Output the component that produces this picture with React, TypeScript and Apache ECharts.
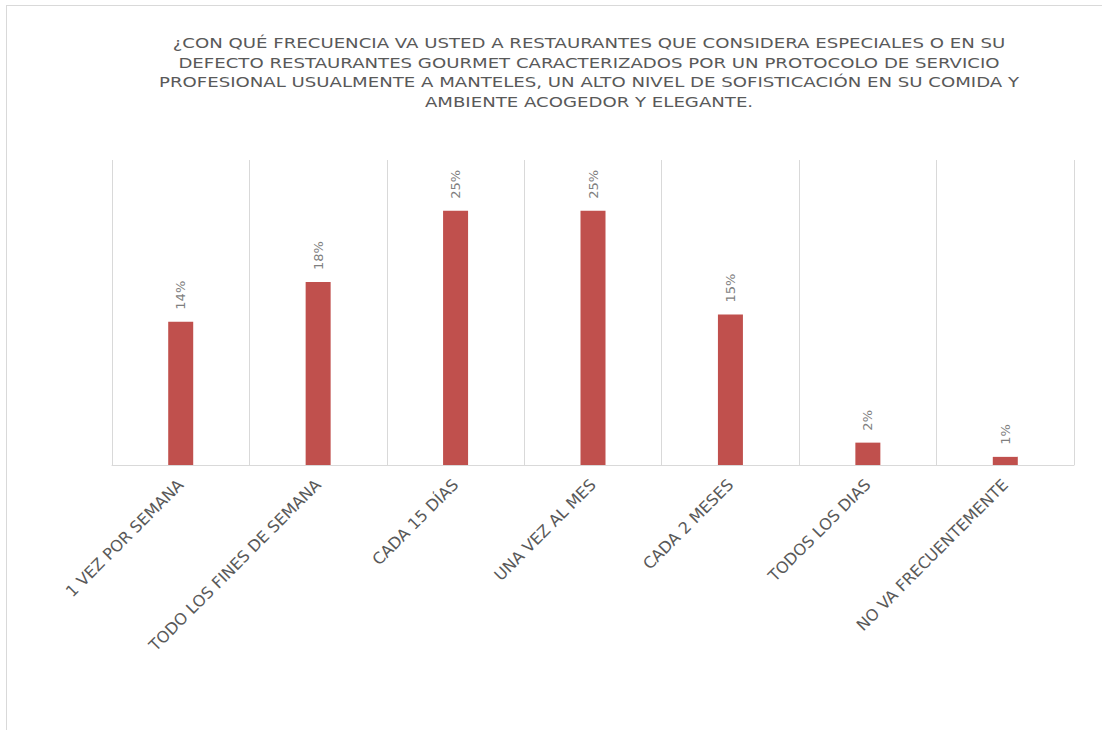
import { useEffect, useRef } from "react";
import * as echarts from "echarts";

const categories = [
  "1 VEZ POR SEMANA",
  "TODO LOS FINES DE SEMANA",
  "CADA 15 DÍAS",
  "UNA VEZ AL MES",
  "CADA 2 MESES",
  "TODOS LOS DIAS",
  "NO VA FRECUENTEMENTE",
];
const values = [14.1, 18.0, 25.0, 25.0, 14.8, 2.2, 0.8];
const titleLines = [
  "¿CON QUÉ FRECUENCIA VA USTED A RESTAURANTES QUE CONSIDERA ESPECIALES O EN SU",
  "DEFECTO RESTAURANTES GOURMET CARACTERIZADOS POR UN PROTOCOLO DE SERVICIO",
  "PROFESIONAL USUALMENTE A MANTELES, UN ALTO NIVEL DE SOFISTICACIÓN EN SU COMIDA Y",
  "AMBIENTE ACOGEDOR Y ELEGANTE.",
];

export default function App() {
  const ref = useRef<HTMLDivElement>(null);
  useEffect(() => {
    document.body.style.margin = "0";
    const chart = echarts.init(ref.current!, null, { renderer: "svg" });
    chart.setOption({
      animation: false,
      grid: { left: 112, right: 28, top: 160, bottom: 265 },
      xAxis: {
        type: "category",
        data: categories,
        axisLine: { lineStyle: { color: "#d9d9d9" } },
        axisTick: { show: false },
        splitLine: { show: true, lineStyle: { color: "#d9d9d9" } },
        axisLabel: {
          interval: 0,
          rotate: 45,
          margin: 17,
          fontFamily: "DejaVu Sans",
          fontSize: 16,
          color: "#595959",
        },
      },
      yAxis: { type: "value", min: 0, max: 30, show: false },
      series: [
        {
          type: "bar",
          data: values,
          barWidth: 25,
          itemStyle: { color: "#C0504D" },
          label: {
            show: true,
            position: "top",
            rotate: 90,
            align: "left",
            verticalAlign: "middle",
            distance: 12,
            formatter: (p: any) => Math.round(p.value) + "%",
            fontFamily: "DejaVu Sans",
            fontSize: 13,
            color: "#7f7f7f",
          },
        },
      ],
      graphic: [
        {
          type: "line",
          shape: { x1: 6, y1: 5.5, x2: 1102, y2: 5.5 },
          style: { stroke: "#d9d9d9", lineWidth: 1 },
        },
        {
          type: "line",
          shape: { x1: 6.5, y1: 5, x2: 6.5, y2: 730 },
          style: { stroke: "#d9d9d9", lineWidth: 1 },
        },
        {
          type: "text",
          x: 589,
          y: 34,
          scaleX: 1.295,
          style: {
            text: titleLines.join("\n"),
            fill: "#595959",
            fontFamily: "DejaVu Sans",
            fontSize: 14,
            align: "center",
            verticalAlign: "top",
            lineHeight: 19.5,
          },
        },
      ],
    });
    return () => chart.dispose();
  }, []);
  return <div ref={ref} style={{ width: 1102, height: 730 }} />;
}
